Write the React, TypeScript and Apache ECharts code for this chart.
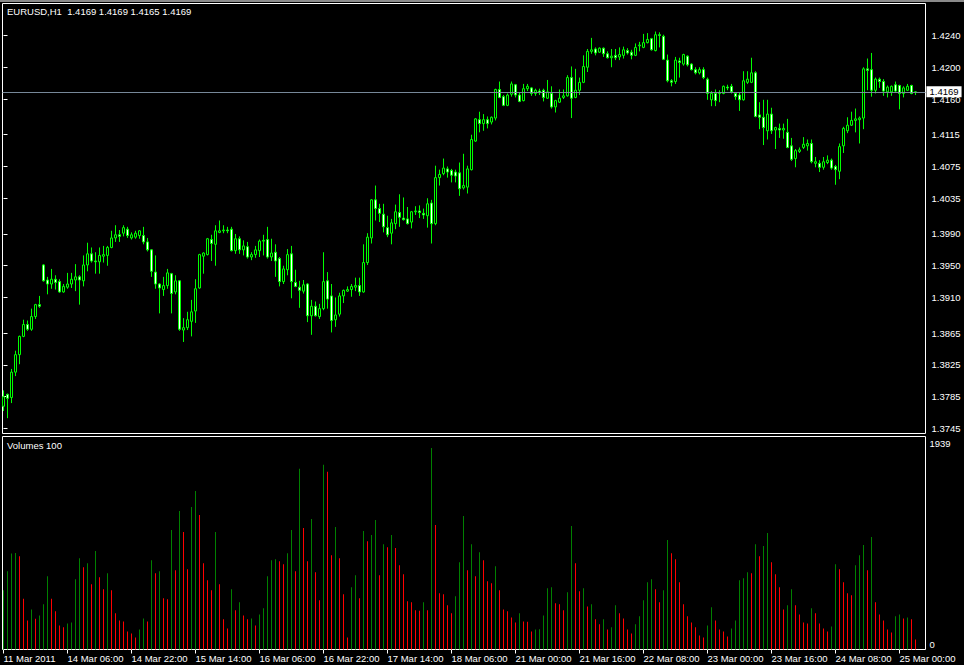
import React, { useEffect, useRef } from "react";
import * as echarts from "echarts";

const symbolName = "EURUSD,H1";
const indicatorName = "Volumes 100";
const timeLabels = [
  "11 Mar 2011", "14 Mar 06:00", "14 Mar 22:00", "15 Mar 14:00", "16 Mar 06:00",
  "16 Mar 22:00", "17 Mar 14:00", "18 Mar 06:00", "21 Mar 00:00", "21 Mar 16:00",
  "22 Mar 08:00", "23 Mar 00:00", "23 Mar 16:00", "24 Mar 08:00", "25 Mar 00:00",
];
const labelStep = 16;
const priceTicks = [1.424, 1.42, 1.416, 1.4115, 1.4075, 1.4035, 1.399, 1.395, 1.391, 1.3865, 1.3825, 1.3785, 1.3745];
const volumeTicks = [0, 1939];
const priceAxisMin = 1.37387;
const priceAxisMax = 1.42803;
const volumeAxisMax = 2050;

const opens = [
  1.3773,1.3788,1.3784,1.3816,1.3838,1.3861,1.3876,1.3870,1.3886,1.3901,
  1.3951,1.3932,1.3927,1.3933,1.3930,1.3917,1.3923,1.3927,1.3932,1.3936,
  1.3931,1.3951,1.3965,1.3956,1.3955,1.3962,1.3963,1.3973,1.3985,1.3989,
  1.3991,1.3996,1.3985,1.3986,1.3988,1.3988,1.3980,1.3970,1.3942,1.3927,
  1.3920,1.3925,1.3940,1.3917,1.3931,1.3869,1.3872,1.3880,1.3893,1.3922,
  1.3962,1.3964,1.3983,1.3977,1.3992,1.3994,1.3995,1.3996,1.3969,1.3984,
  1.3970,1.3974,1.3961,1.3964,1.3969,1.3981,1.3983,1.3961,1.3967,1.3959,
  1.3930,1.3945,1.3965,1.3929,1.3923,1.3918,1.3927,1.3887,1.3899,1.3886,
  1.3896,1.3931,1.3912,1.3882,1.3889,1.3912,1.3918,1.3920,1.3923,1.3925,
  1.3917,1.3954,1.3985,1.4033,1.4022,1.4015,1.3998,1.3991,1.4003,1.4017,
  1.4010,1.4009,1.4005,1.4018,1.4019,1.4016,1.4013,1.4029,1.4003,1.4061,
  1.4066,1.4072,1.4070,1.4068,1.4067,1.4048,1.4049,1.4071,1.4107,1.4134,
  1.4129,1.4134,1.4131,1.4136,1.4172,1.4163,1.4152,1.4166,1.4178,1.4165,
  1.4158,1.4173,1.4174,1.4167,1.4170,1.4171,1.4161,1.4167,1.4150,1.4156,
  1.4162,1.4164,1.4187,1.4162,1.4171,1.4181,1.4200,1.4220,1.4223,1.4219,
  1.4224,1.4217,1.4212,1.4215,1.4213,1.4215,1.4221,1.4219,1.4215,1.4227,
  1.4225,1.4231,1.4236,1.4221,1.4241,1.4239,1.4209,1.4183,1.4182,1.4208,
  1.4204,1.4214,1.4204,1.4197,1.4193,1.4197,1.4185,1.4159,1.4167,1.4167,
  1.4167,1.4175,1.4176,1.4167,1.4165,1.4159,1.4181,1.4181,1.4193,1.4140,
  1.4137,1.4120,1.4141,1.4121,1.4123,1.4121,1.4118,1.4101,1.4085,1.4094,
  1.4099,1.4101,1.4104,1.4079,1.4079,1.4074,1.4080,1.4083,1.4075,1.4069,
  1.4101,1.4120,1.4127,1.4133,1.4134,1.4136,1.4198,1.4197,1.4171,1.4185,
  1.4182,1.4169,1.4169,1.4178,1.4177,1.4167,1.4171,1.4177,1.4169,
];
const highs = [
  1.3793,1.3789,1.3820,1.3843,1.3862,1.3882,1.3881,1.3896,1.3902,1.3912,
  1.3952,1.3936,1.3946,1.3938,1.3933,1.3927,1.3941,1.3941,1.3952,1.3938,
  1.3963,1.3979,1.3973,1.3967,1.3973,1.3975,1.3975,1.3994,1.4001,1.3995,
  1.4001,1.3999,1.3992,1.3994,1.3995,1.3999,1.3985,1.3971,1.3963,1.3928,
  1.3936,1.3946,1.3941,1.3938,1.3932,1.3884,1.3892,1.3907,1.3933,1.3965,
  1.3967,1.3985,1.3989,1.4001,1.4007,1.4001,1.3999,1.3999,1.3990,1.3987,
  1.3982,1.3980,1.3967,1.3975,1.3983,1.3989,1.3999,1.3984,1.3977,1.3961,
  1.3950,1.3971,1.3975,1.3945,1.3931,1.3932,1.3928,1.3907,1.3905,1.3902,
  1.3967,1.3942,1.3927,1.3910,1.3916,1.3920,1.3924,1.3927,1.3935,1.3935,
  1.3977,1.3991,1.4034,1.4051,1.4028,1.4028,1.4013,1.4009,1.4027,1.4040,
  1.4036,1.4024,1.4019,1.4025,1.4026,1.4022,1.4035,1.4033,1.4076,1.4071,
  1.4085,1.4075,1.4072,1.4071,1.4080,1.4091,1.4076,1.4115,1.4136,1.4144,
  1.4141,1.4138,1.4138,1.4173,1.4182,1.4165,1.4167,1.4182,1.4179,1.4168,
  1.4179,1.4179,1.4175,1.4173,1.4173,1.4173,1.4184,1.4176,1.4159,1.4172,
  1.4172,1.4190,1.4201,1.4198,1.4187,1.4215,1.4223,1.4237,1.4225,1.4225,
  1.4225,1.4220,1.4223,1.4223,1.4225,1.4226,1.4224,1.4222,1.4230,1.4232,
  1.4242,1.4243,1.4237,1.4245,1.4244,1.4241,1.4216,1.4185,1.4213,1.4212,
  1.4217,1.4215,1.4205,1.4200,1.4200,1.4200,1.4187,1.4170,1.4172,1.4171,
  1.4177,1.4178,1.4179,1.4168,1.4168,1.4195,1.4195,1.4212,1.4195,1.4156,
  1.4159,1.4159,1.4149,1.4125,1.4129,1.4129,1.4135,1.4111,1.4097,1.4099,
  1.4112,1.4109,1.4109,1.4087,1.4083,1.4087,1.4089,1.4085,1.4077,1.4104,
  1.4125,1.4137,1.4144,1.4148,1.4138,1.4200,1.4211,1.4218,1.4187,1.4187,
  1.4185,1.4177,1.4177,1.4182,1.4178,1.4176,1.4179,1.4178,1.4169,
];
const lows = [
  1.3767,1.3758,1.3777,1.3811,1.3826,1.3860,1.3868,1.3868,1.3883,1.3897,
  1.3930,1.3914,1.3921,1.3920,1.3916,1.3916,1.3921,1.3922,1.3918,1.3901,
  1.3924,1.3943,1.3954,1.3940,1.3940,1.3954,1.3950,1.3972,1.3980,1.3980,
  1.3987,1.3985,1.3983,1.3984,1.3984,1.3977,1.3968,1.3936,1.3921,1.3890,
  1.3912,1.3921,1.3890,1.3914,1.3868,1.3854,1.3869,1.3861,1.3878,1.3921,
  1.3940,1.3963,1.3956,1.3950,1.3991,1.3991,1.3991,1.3968,1.3965,1.3965,
  1.3963,1.3959,1.3957,1.3960,1.3961,1.3963,1.3959,1.3956,1.3936,1.3924,
  1.3927,1.3938,1.3909,1.3923,1.3897,1.3915,1.3879,1.3863,1.3886,1.3883,
  1.3894,1.3896,1.3866,1.3873,1.3886,1.3903,1.3917,1.3911,1.3918,1.3912,
  1.3916,1.3951,1.3978,1.4007,1.4005,1.3992,1.3986,1.3977,1.3996,1.3999,
  1.4007,1.4002,1.3997,1.4014,1.4010,1.4009,1.3998,1.3978,1.4001,1.4051,
  1.4064,1.4061,1.4055,1.4055,1.4038,1.4046,1.4041,1.4070,1.4106,1.4118,
  1.4120,1.4123,1.4128,1.4133,1.4161,1.4151,1.4151,1.4163,1.4162,1.4156,
  1.4157,1.4170,1.4164,1.4164,1.4165,1.4157,1.4160,1.4148,1.4143,1.4155,
  1.4160,1.4163,1.4136,1.4161,1.4165,1.4180,1.4194,1.4217,1.4215,1.4218,
  1.4213,1.4211,1.4200,1.4209,1.4209,1.4211,1.4216,1.4210,1.4214,1.4220,
  1.4224,1.4230,1.4221,1.4220,1.4225,1.4209,1.4181,1.4176,1.4179,1.4187,
  1.4202,1.4201,1.4196,1.4191,1.4191,1.4185,1.4159,1.4151,1.4151,1.4156,
  1.4166,1.4171,1.4167,1.4159,1.4145,1.4158,1.4179,1.4180,1.4137,1.4122,
  1.4102,1.4109,1.4116,1.4097,1.4111,1.4110,1.4098,1.4082,1.4074,1.4092,
  1.4097,1.4095,1.4079,1.4074,1.4068,1.4071,1.4078,1.4071,1.4052,1.4059,
  1.4092,1.4117,1.4126,1.4118,1.4104,1.4122,1.4171,1.4163,1.4167,1.4174,
  1.4164,1.4162,1.4164,1.4168,1.4147,1.4162,1.4170,1.4166,1.4165,
];
const closes = [
  1.3785,1.3783,1.3816,1.3838,1.3861,1.3876,1.3870,1.3886,1.3901,1.3899,
  1.3931,1.3927,1.3933,1.3929,1.3917,1.3924,1.3927,1.3933,1.3936,1.3932,
  1.3951,1.3965,1.3956,1.3955,1.3963,1.3964,1.3973,1.3985,1.3989,1.3987,
  1.3998,1.3988,1.3989,1.3991,1.3994,1.3980,1.3970,1.3943,1.3927,1.3922,
  1.3925,1.3941,1.3915,1.3931,1.3870,1.3872,1.3882,1.3892,1.3921,1.3964,
  1.3966,1.3984,1.3978,1.3994,1.3994,1.3995,1.3994,1.3969,1.3984,1.3970,
  1.3975,1.3961,1.3964,1.3970,1.3981,1.3982,1.3961,1.3966,1.3956,1.3930,
  1.3946,1.3964,1.3930,1.3924,1.3919,1.3926,1.3887,1.3899,1.3887,1.3896,
  1.3930,1.3908,1.3881,1.3888,1.3912,1.3919,1.3920,1.3924,1.3925,1.3917,
  1.3954,1.3986,1.4033,1.4022,1.4016,1.3999,1.3989,1.4004,1.4018,1.4011,
  1.4008,1.4003,1.4018,1.4019,1.4017,1.4014,1.4028,1.4003,1.4061,1.4065,
  1.4073,1.4068,1.4064,1.4063,1.4047,1.4051,1.4072,1.4109,1.4135,1.4129,
  1.4134,1.4129,1.4137,1.4172,1.4162,1.4152,1.4165,1.4179,1.4165,1.4157,
  1.4173,1.4176,1.4167,1.4171,1.4168,1.4162,1.4169,1.4150,1.4158,1.4161,
  1.4164,1.4187,1.4161,1.4171,1.4181,1.4201,1.4220,1.4222,1.4218,1.4224,
  1.4217,1.4212,1.4214,1.4212,1.4216,1.4222,1.4218,1.4215,1.4225,1.4228,
  1.4231,1.4235,1.4222,1.4241,1.4240,1.4210,1.4183,1.4181,1.4209,1.4206,
  1.4216,1.4203,1.4197,1.4193,1.4197,1.4187,1.4167,1.4167,1.4158,1.4168,
  1.4176,1.4174,1.4169,1.4163,1.4159,1.4183,1.4185,1.4193,1.4138,1.4137,
  1.4124,1.4141,1.4120,1.4124,1.4121,1.4123,1.4099,1.4084,1.4095,1.4096,
  1.4103,1.4104,1.4081,1.4081,1.4074,1.4081,1.4083,1.4073,1.4071,1.4100,
  1.4123,1.4127,1.4133,1.4135,1.4136,1.4198,1.4196,1.4171,1.4185,1.4182,
  1.4170,1.4175,1.4176,1.4170,1.4167,1.4174,1.4176,1.4167,1.4169,
];
const volumes = [
  570,753,924,928,898,489,280,386,296,328,
  435,705,489,367,232,213,251,261,676,879,
  792,831,628,947,696,580,734,570,348,280,
  270,174,155,116,193,299,270,860,734,753,
  493,483,1150,763,1333,1130,773,1372,1526,1294,
  831,667,570,1130,628,290,203,580,377,454,
  328,290,299,232,338,396,705,860,869,850,
  821,927,1150,753,1739,1169,850,1256,744,473,
  1777,1710,908,1179,879,531,116,599,715,493,
  1140,1043,1101,1246,715,1014,985,1101,976,811,
  725,464,454,377,372,454,377,1939,1198,541,
  531,425,348,512,840,1285,763,1014,705,937,
  860,657,638,802,570,386,367,309,261,348,
  270,266,174,193,196,328,589,599,444,435,
  377,551,1188,831,560,589,415,435,290,242,
  290,193,213,425,348,299,193,155,242,319,
  473,647,676,580,454,570,1053,927,869,647,
  435,319,261,213,135,116,232,406,280,193,
  174,126,203,280,667,686,744,734,1014,898,
  995,1121,840,725,599,386,425,580,425,338,
  261,251,396,348,251,203,174,222,821,773,
  647,541,522,811,908,1005,763,1082,454,338,
  280,193,164,319,338,299,309,290,97,
];

const FONT = "Liberation Sans";
const WHITE = "#ffffff";
const CANDLE_GREEN = "#00ff00";
const VOL_UP = "#008000";
const VOL_DOWN = "#ff0000";
const BID_LINE = "#778899";

export default function App() {
  const ref = useRef<HTMLDivElement>(null);

  useEffect(() => {
    document.body.style.margin = "0";
    document.body.style.background = "#000";
    const el = ref.current;
    if (!el) return;
    const chart = echarts.init(el, null, { renderer: "svg" });

    const last = closes.length - 1;
    const candleData = closes.map((c, i) => [i, opens[i], c, lows[i], highs[i]]);
    const closeLine = closes.map((c, i) => [i, c]);
    const volData = volumes.map((v, i) => ({
      value: [i, v],
      itemStyle: { color: i === 0 || v > volumes[i - 1] ? VOL_UP : VOL_DOWN },
    }));
    const labelIdx = timeLabels.map((_, k) => k * labelStep);
    const bidPrice = closes[last];
    const infoText = `${symbolName}\u00a0\u00a0${opens[last].toFixed(4)} ${highs[last].toFixed(4)} ${lows[last].toFixed(4)} ${closes[last].toFixed(4)}`;
    const xMin = -0.25;
    const xMax = 230.5;
    const txt = { color: WHITE, fontSize: 9.5, fontFamily: FONT, fontWeight: "normal" as const };

    const option: any = {
      animation: false,
      backgroundColor: "#000000",
      textStyle: { fontFamily: FONT },
      title: [
        { text: infoText, left: 7, top: 6, padding: 0, textStyle: txt },
        { text: indicatorName, left: 7, top: 440.5, padding: 0, textStyle: txt },
      ],
      graphic: [
        { type: "rect", shape: { x: 0, y: 0, width: 964, height: 2 }, style: { fill: "#8a8a8a" }, silent: true },
      ],
      grid: [
        { left: 2.5, top: 3.5, width: 923, height: 430, show: true, borderColor: WHITE, borderWidth: 1, backgroundColor: "transparent" },
        { left: 2.5, top: 436.5, width: 923, height: 213, show: true, borderColor: WHITE, borderWidth: 1, backgroundColor: "transparent" },
      ],
      xAxis: [
        { type: "value", gridIndex: 0, min: xMin, max: xMax, show: false, splitLine: { show: false } },
        {
          type: "value", gridIndex: 1, min: xMin, max: xMax,
          axisLine: { show: false },
          splitLine: { show: false },
          axisTick: { show: true, length: 4, lineStyle: { color: WHITE, width: 1 }, customValues: labelIdx },
          axisLabel: {
            customValues: labelIdx,
            formatter: (v: number) => timeLabels[Math.round(v / labelStep)] ?? "",
            ...txt, align: "left", margin: 4,
          },
        },
      ],
      yAxis: [
        {
          type: "value", gridIndex: 0, position: "right", min: priceAxisMin, max: priceAxisMax,
          splitLine: { show: false }, axisLine: { show: false },
          axisTick: { show: true, length: 4, lineStyle: { color: WHITE, width: 1 }, customValues: priceTicks },
          axisLabel: { customValues: priceTicks, formatter: (v: number) => v.toFixed(4), ...txt, margin: 6 },
        },
        {
          type: "value", gridIndex: 1, position: "right", min: 0, max: volumeAxisMax,
          splitLine: { show: false }, axisLine: { show: false },
          axisTick: { show: false },
          axisLabel: { customValues: volumeTicks, formatter: (v: number) => String(v), ...txt, margin: 4, verticalAlign: "bottom" },
        },
      ],
      series: [
        {
          type: "line",
          xAxisIndex: 0, yAxisIndex: 0,
          data: closeLine,
          symbol: "none",
          lineStyle: { opacity: 0, width: 0 },
          silent: true,
          z: 3,
          emphasis: { disabled: true },
          markLine: {
            silent: true,
            precision: 4,
            symbol: ["none", "none"],
            animation: false,
            data: [{ yAxis: bidPrice }],
            lineStyle: { color: BID_LINE, width: 1, type: "solid" },
            emphasis: { disabled: true },
            label: {
              show: true, position: "end", distance: 1,
              formatter: () => bidPrice.toFixed(4),
              backgroundColor: "#ffffff", color: "#000000",
              fontSize: 9.5, fontFamily: FONT, padding: [1, 3, 0, 3],
            },
          },
        },
        {
          type: "candlestick",
          xAxisIndex: 0, yAxisIndex: 0,
          data: candleData,
          barWidth: 2,
          z: 4,
          emphasis: { disabled: true },
          itemStyle: {
            color: "#000000", color0: "#ffffff",
            borderColor: CANDLE_GREEN, borderColor0: CANDLE_GREEN, borderColorDoji: CANDLE_GREEN,
            borderWidth: 1,
          },
        },
        {
          type: "bar",
          xAxisIndex: 1, yAxisIndex: 1,
          data: volData,
          barWidth: 1,
          emphasis: { disabled: true },
        },
      ],
    };

    chart.setOption(option);
    return () => chart.dispose();
  }, []);

  return (
    <div
      ref={ref}
      style={{ position: "fixed", left: 0, top: 0, width: 964, height: 665, background: "#000" }}
    />
  );
}
